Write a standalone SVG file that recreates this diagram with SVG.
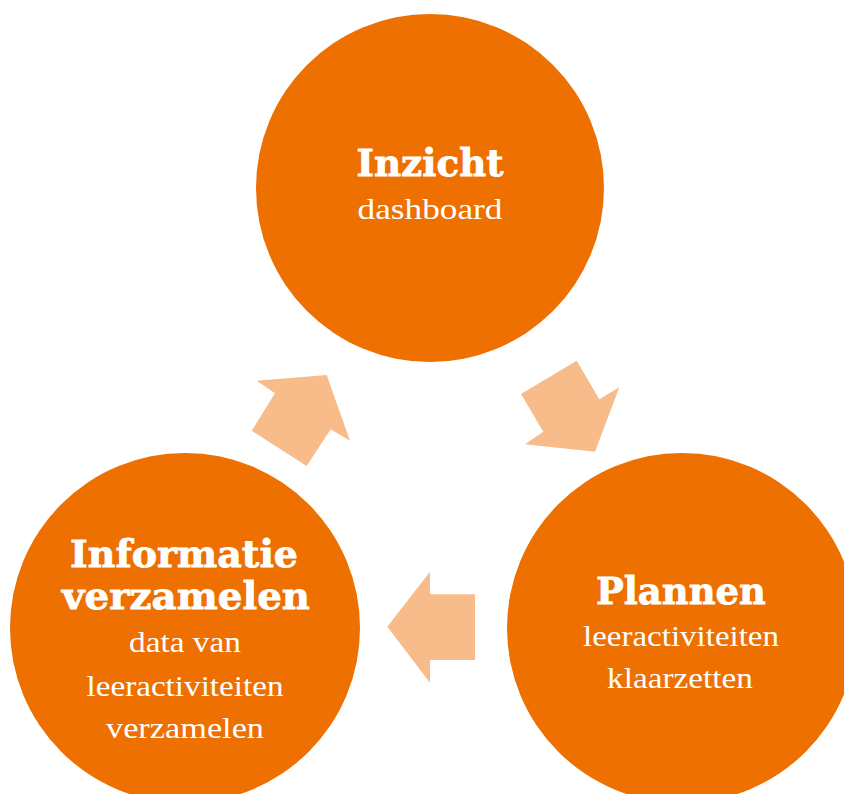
<svg xmlns="http://www.w3.org/2000/svg" width="844" height="794" viewBox="0 0 844 794">
<style>
.node{fill:#ED7000}
.arrow{fill:#F8BC8A}
.t{font-family:"DejaVu Serif","Liberation Serif",serif;font-weight:bold;fill:#fff;stroke:#fff;stroke-width:0.8px;text-anchor:middle;font-size:38px}
.s{font-family:"Liberation Serif","DejaVu Serif",serif;fill:#fff;text-anchor:middle;font-size:30px}
</style>
<rect width="844" height="794" fill="#fff"/>
<g id="connectors">
<polygon class="arrow" points="256.7,380.7 326.7,375 350,440.7 330.7,429.3 306.7,466 251.7,430.7 275,393.3"/>
<polygon class="arrow" points="521,394 576.7,360.7 599.3,399.3 619.3,387.3 595,451.7 525,444.3 543.3,431.7"/>
<polygon class="arrow" points="475,594.3 430,594.3 430,571.7 387.3,626.7 430,682.7 430,660 475,660"/>
</g>
<g id="inzicht">
<circle class="node" cx="430" cy="188" r="174"/>
<text class="t" x="430" y="176" textLength="147" lengthAdjust="spacingAndGlyphs">Inzicht</text>
<text class="s" x="430" y="219" textLength="145" lengthAdjust="spacingAndGlyphs">dashboard</text>
</g>
<g id="plannen">
<circle class="node" cx="682" cy="628" r="175"/>
<text class="t" x="681" y="604" textLength="170" lengthAdjust="spacingAndGlyphs">Plannen</text>
<text class="s" x="681" y="646" textLength="196" lengthAdjust="spacingAndGlyphs">leeractiviteiten</text>
<text class="s" x="680" y="688" textLength="146" lengthAdjust="spacingAndGlyphs">klaarzetten</text>
</g>
<g id="informatie">
<circle class="node" cx="185" cy="628" r="175"/>
<text class="t" x="184" y="567" textLength="228" lengthAdjust="spacingAndGlyphs">Informatie</text>
<text class="t" x="186" y="609" textLength="248" lengthAdjust="spacingAndGlyphs">verzamelen</text>
<text class="s" x="185" y="652" textLength="112" lengthAdjust="spacingAndGlyphs">data van</text>
<text class="s" x="185" y="696" textLength="197" lengthAdjust="spacingAndGlyphs">leeractiviteiten</text>
<text class="s" x="185" y="738" textLength="158" lengthAdjust="spacingAndGlyphs">verzamelen</text>
</g>
</svg>
